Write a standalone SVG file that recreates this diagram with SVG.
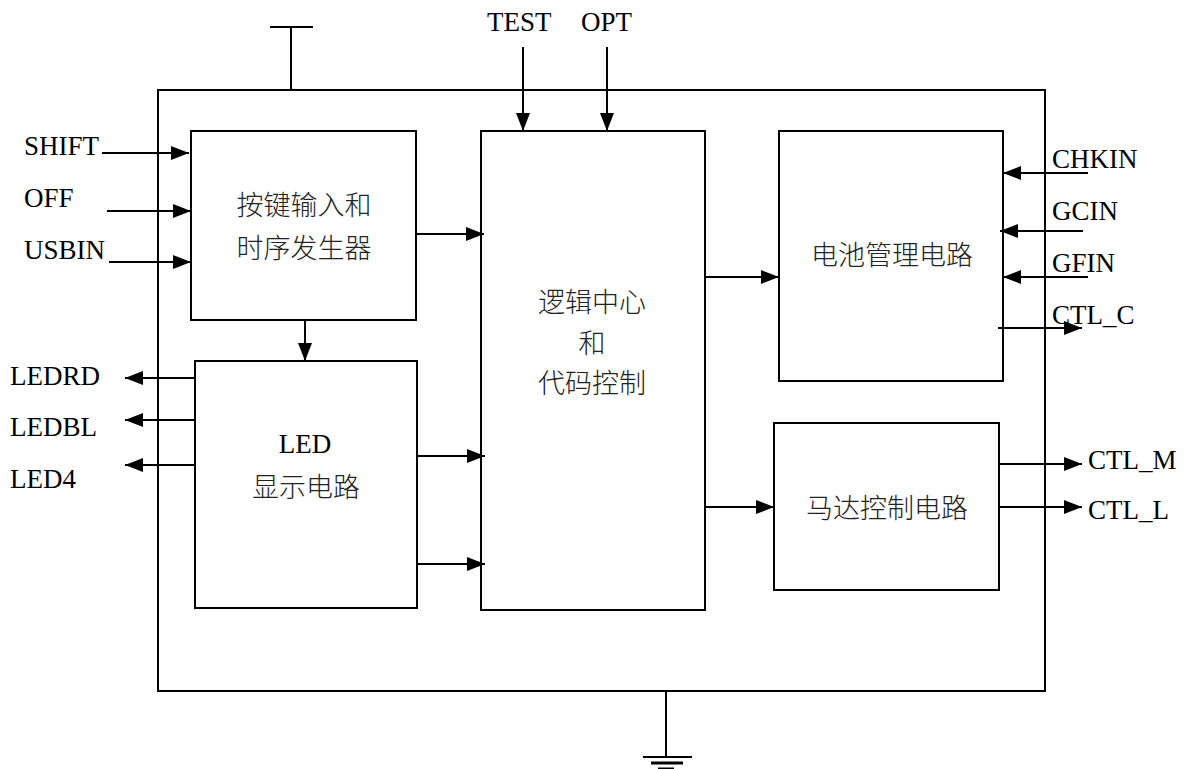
<svg xmlns="http://www.w3.org/2000/svg" width="1184" height="769" viewBox="0 0 1184 769">
<defs>
<marker id="ah" markerUnits="userSpaceOnUse" markerWidth="18" markerHeight="16" refX="18" refY="8" orient="auto">
<path d="M0,1 L18,8 L0,15 z" fill="#000"/>
</marker>
<style>
.box{fill:none;stroke:#000;stroke-width:2}
.ln{fill:none;stroke:#000;stroke-width:2}
.ar{fill:none;stroke:#000;stroke-width:2;marker-end:url(#ah)}
.lat{font-family:"Liberation Serif","Times New Roman",serif;font-size:27px;fill:#000}
.cjk{font-family:"Noto Sans CJK SC","Noto Sans",sans-serif;font-size:27px;font-weight:300;fill:#222;text-anchor:middle}
</style>
</defs>
<rect width="1184" height="769" fill="#fff"/>
<g id="chip">
<rect class="box" x="158" y="90" width="887" height="601"/>
<line class="ln" x1="291" y1="27" x2="291" y2="90"/>
<line class="ln" x1="270" y1="27" x2="313" y2="27"/>
<line class="ln" x1="666" y1="691" x2="666" y2="757"/>
<line class="ln" x1="643" y1="757" x2="692" y2="757"/>
<line x1="651" y1="763" x2="683" y2="763" stroke="#000" stroke-width="3"/>
<line x1="658" y1="768.5" x2="674" y2="768.5" stroke="#000" stroke-width="2"/>
</g>
<g id="key">
<rect class="box" x="191" y="131" width="225" height="189"/>
<text class="cjk" x="304" y="215">按键输入和</text>
<text class="cjk" x="304" y="258">时序发生器</text>
</g>
<g id="led">
<rect class="box" x="195" y="361" width="222" height="247"/>
<text class="lat" x="305" y="453" text-anchor="middle">LED</text>
<text class="cjk" x="306" y="497">显示电路</text>
</g>
<g id="logic">
<rect class="box" x="481" y="131" width="224" height="479"/>
<text class="cjk" x="592" y="312">逻辑中心</text>
<text class="cjk" x="592" y="353">和</text>
<text class="cjk" x="592" y="393">代码控制</text>
</g>
<g id="battery">
<rect class="box" x="779" y="131" width="224" height="250"/>
<text class="cjk" x="892" y="265">电池管理电路</text>
</g>
<g id="motor">
<rect class="box" x="774" y="423" width="225" height="167"/>
<text class="cjk" x="887" y="518">马达控制电路</text>
</g>
<g id="labels">
<text class="lat" x="24" y="155">SHIFT</text>
<text class="lat" x="24" y="207">OFF</text>
<text class="lat" x="24" y="259">USBIN</text>
<text class="lat" x="487" y="31">TEST</text>
<text class="lat" x="581" y="31">OPT</text>
<text class="lat" x="10" y="385">LEDRD</text>
<text class="lat" x="10" y="436">LEDBL</text>
<text class="lat" x="10" y="488">LED4</text>
<text class="lat" x="1052" y="168">CHKIN</text>
<text class="lat" x="1052" y="220">GCIN</text>
<text class="lat" x="1052" y="272">GFIN</text>
<text class="lat" x="1052" y="324">CTL_C</text>
<text class="lat" x="1088" y="469">CTL_M</text>
<text class="lat" x="1088" y="519">CTL_L</text>
</g>
<g id="connectors">
<line class="ar" x1="102" y1="153" x2="189" y2="153"/>
<line class="ar" x1="107" y1="211" x2="191" y2="211"/>
<line class="ar" x1="109" y1="262" x2="191" y2="262"/>
<line class="ar" x1="523" y1="47" x2="523" y2="131"/>
<line class="ar" x1="607" y1="47" x2="607" y2="131"/>
<line class="ar" x1="416" y1="234" x2="484" y2="234"/>
<line class="ar" x1="305" y1="320" x2="305" y2="361"/>
<line class="ar" x1="195" y1="378" x2="125" y2="378"/>
<line class="ar" x1="195" y1="420" x2="125" y2="420"/>
<line class="ar" x1="195" y1="465" x2="125" y2="465"/>
<line class="ar" x1="417" y1="456" x2="485" y2="456"/>
<line class="ar" x1="417" y1="564" x2="485" y2="564"/>
<line class="ar" x1="705" y1="277" x2="779" y2="277"/>
<line class="ar" x1="705" y1="507" x2="774" y2="507"/>
<line class="ar" x1="1088" y1="173" x2="1003" y2="173"/>
<line class="ar" x1="1083" y1="231" x2="1000" y2="231"/>
<line class="ar" x1="1088" y1="277" x2="1003" y2="277"/>
<line class="ar" x1="998" y1="328" x2="1082" y2="328"/>
<line class="ar" x1="999" y1="464" x2="1082" y2="464"/>
<line class="ar" x1="999" y1="507" x2="1082" y2="507"/>
</g>
</svg>
